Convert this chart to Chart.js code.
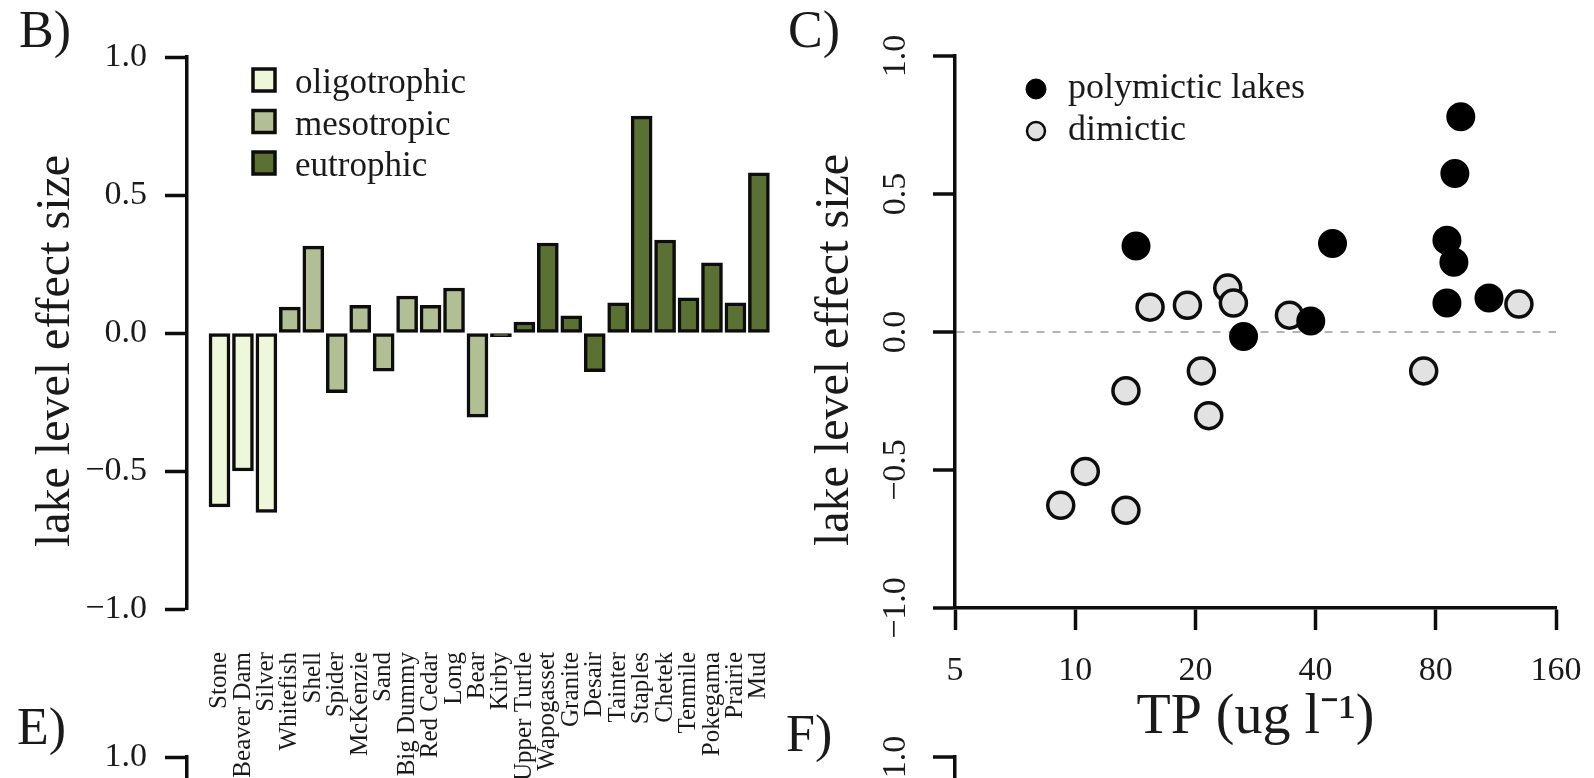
<!DOCTYPE html>
<html>
<head>
<meta charset="utf-8">
<title>Lake level effect size</title>
<script src="https://cdn.jsdelivr.net/npm/chart.js@4.4.1/dist/chart.umd.min.js"></script>
<style>
  html, body { margin: 0; padding: 0; background: #fff; width: 1594px; height: 778px; overflow: hidden; position: relative; }
  .panel { position: absolute; }
  .tag { position: absolute; font-family: 'Liberation Serif', 'Times New Roman', serif; font-size: 52px; line-height: 1; color: #1a1a1a; }
</style>
</head>
<body>

<div class="panel" style="left:0;top:0;width:800px;height:778px"><canvas id="chartB" width="800" height="778"></canvas></div>
<div class="panel" style="left:800px;top:0;width:794px;height:778px"><canvas id="chartC" width="794" height="778"></canvas></div>
<div class="panel" style="left:0;top:700px;width:800px;height:778px"><canvas id="chartE" width="800" height="778"></canvas></div>
<div class="panel" style="left:800px;top:700px;width:794px;height:778px"><canvas id="chartF" width="794" height="778"></canvas></div>

<div class="tag" style="left:19px;top:4px">B)</div>
<div class="tag" style="left:788px;top:4px">C)</div>
<div class="tag" style="left:17px;top:701px">E)</div>
<div class="tag" style="left:786px;top:708px">F)</div>

<script>
/* ---- data ---- */
const lakeNames = ['Stone', 'Beaver Dam', 'Silver', 'Whitefish', 'Shell', 'Spider', 'McKenzie', 'Sand',
                   'Big Dummy', 'Red Cedar', 'Long', 'Bear', 'Kirby', 'Upper Turtle', 'Wapogasset', 'Granite',
                   'Desair', 'Tainter', 'Staples', 'Chetek', 'Tenmile', 'Pokegama', 'Prairie', 'Mud'];
const lakeEffect = [-0.63, -0.50, -0.65, 0.094, 0.315, -0.216, 0.10, -0.138,
                    0.134, 0.10, 0.163, -0.305, -0.013, 0.04, 0.326, 0.062,
                    -0.14, 0.109, 0.786, 0.337, 0.127, 0.254, 0.109, 0.58];
const lakeTrophic = ['oligotrophic', 'oligotrophic', 'oligotrophic',
                     'mesotropic', 'mesotropic', 'mesotropic', 'mesotropic', 'mesotropic',
                     'mesotropic', 'mesotropic', 'mesotropic', 'mesotropic',
                     'eutrophic', 'eutrophic', 'eutrophic', 'eutrophic', 'eutrophic', 'eutrophic',
                     'eutrophic', 'eutrophic', 'eutrophic', 'eutrophic', 'eutrophic', 'eutrophic'];
const trophicGroups = ['oligotrophic', 'mesotropic', 'eutrophic'];

// panel C: TP (ug/l) against effect size, split by mixing regime
const polyTP     = [14.2, 44.1, 92.4, 89.3, 85.3, 88.8, 85.3, 108.7, 26.4, 38.9];
const polyEffect = [0.312, 0.321, 0.780, 0.574, 0.332, 0.253, 0.105, 0.123, -0.016, 0.040];
const dimTP      = [15.4, 19.1, 24.1, 24.9, 34.4, 129.2, 13.4, 20.7, 21.6, 10.6, 9.2, 13.4, 74.6];
const dimEffect  = [0.090, 0.097, 0.159, 0.105, 0.061, 0.101, -0.213, -0.141, -0.303, -0.505, -0.628, -0.646, -0.141];

const effectTicks = [-1, -0.5, 0, 0.5, 1];
const tpTicks = [5, 10, 20, 40, 80, 160];

/* ---- look ---- */
const serif = "'Liberation Serif', 'Times New Roman', serif";
const ink = '#0d0d0d';
const textInk = '#1a1a1a';
const trophicColour = { oligotrophic: '#eff7da', mesotropic: '#b2bf94', eutrophic: '#5b7134' };

const fmtEffect = v => (v < 0 ? '\u2212' : '') + Math.abs(v).toFixed(1);

/* y axis shared by B and E (labels horizontal) */
function effectAxisFlat(withTitle) {
  return {
    min: -1, max: 1,
    afterBuildTicks: s => { s.ticks = effectTicks.map(v => ({ value: v })); },
    afterFit: s => { s.width = 187; },
    grid: { drawOnChartArea: false, drawTicks: true, tickLength: 22, tickWidth: 3.5, tickColor: ink },
    border: { display: true, color: ink, width: 3.5 },
    ticks: { padding: 18, color: textInk, font: { family: serif, size: 34 }, callback: fmtEffect },
    title: { display: withTitle, text: 'lake level effect size   ', color: textInk,
             font: { family: serif, size: 48 }, padding: { top: 28, bottom: 0 } }
  };
}

/* y axis shared by C and F (labels drawn sideways by plugin) */
function effectAxisSide(withTitle, zeroLine) {
  return {
    min: -1, max: 1,
    afterBuildTicks: s => { s.ticks = effectTicks.map(v => ({ value: v })); },
    afterFit: s => { s.width = 155; },
    grid: {
      drawOnChartArea: zeroLine, drawTicks: true, tickLength: 22, tickWidth: 3.5, tickColor: ink,
      lineWidth: 2,
      color: c => (c.tick && c.tick.value === 0) ? '#b4b4b4' : 'rgba(0,0,0,0)'
    },
    border: { display: true, color: ink, width: 3.5, dash: [8, 8] },
    ticks: { display: false },
    title: { display: withTitle, text: 'lake level effect size   ', color: textInk,
             font: { family: serif, size: 48 }, padding: { top: 7, bottom: 0 } }
  };
}

/* R-style sideways y tick labels */
const sidewaysTicks = {
  id: 'sidewaysTicks',
  afterDraw(chart, args, opts) {
    const s = chart.scales.y;
    const ctx = chart.ctx;
    ctx.save();
    ctx.font = `34px ${serif}`;
    ctx.fillStyle = textInk;
    ctx.textAlign = 'center';
    ctx.textBaseline = 'middle';
    s.ticks.forEach(t => {
      ctx.save();
      ctx.translate(opts.x, s.getPixelForValue(t.value));
      ctx.rotate(-Math.PI / 2);
      ctx.fillText(fmtEffect(t.value), 0, 0);
      ctx.restore();
    });
    ctx.restore();
  }
};

/* legend of trophic classes (panel B) */
const trophicKey = {
  id: 'trophicKey',
  afterDraw(chart, args, o) {
    const ctx = chart.ctx;
    ctx.save();
    ctx.font = `35px ${serif}`;
    ctx.textBaseline = 'middle';
    trophicGroups.forEach((g, i) => {
      const y = o.top + i * o.step;
      ctx.fillStyle = trophicColour[g];
      ctx.fillRect(o.left, y - o.size / 2, o.size, o.size);
      ctx.lineWidth = 3.5;
      ctx.strokeStyle = ink;
      ctx.strokeRect(o.left, y - o.size / 2, o.size, o.size);
      ctx.fillStyle = textInk;
      ctx.fillText(g, o.textLeft, y + 4);
    });
    ctx.restore();
  }
};

/* legend of mixing regime (panel C), markers taken from the datasets */
const mixKey = {
  id: 'mixKey',
  afterDraw(chart, args, o) {
    const ctx = chart.ctx;
    ctx.save();
    ctx.font = `36px ${serif}`;
    ctx.textBaseline = 'middle';
    chart.data.datasets.forEach((ds, i) => {
      const y = o.top + i * o.step;
      ctx.beginPath();
      ctx.arc(o.left, y, o.radius[i], 0, Math.PI * 2);
      ctx.fillStyle = ds.backgroundColor;
      ctx.fill();
      ctx.lineWidth = o.lineWidth[i];
      ctx.strokeStyle = ds.borderColor;
      ctx.stroke();
      ctx.fillStyle = textInk;
      ctx.fillText(ds.label, o.textLeft, y);
    });
    ctx.restore();
  }
};

/* the end labels must not shrink the plot box */
const noEndPadding = s => { s.paddingLeft = 0; s.paddingRight = 0; };

/* ---- B) bar chart ---- */
new Chart(document.getElementById('chartB'), {
  type: 'bar',
  data: {
    datasets: [{
      data: lakeEffect.map((v, i) => ({ x: i, y: v })),
      backgroundColor: lakeTrophic.map(t => trophicColour[t]),
      borderColor: ink,
      borderWidth: 3.5,
      borderSkipped: false,
      barThickness: 21
    }]
  },
  options: {
    responsive: false,
    animation: false,
    layout: { padding: { top: 57, right: 8.6, left: 0, bottom: 0 } },
    plugins: {
      legend: { display: false },
      tooltip: { enabled: false },
      trophicKey: { left: 253, top: 80, step: 41.5, size: 22, textLeft: 295 }
    },
    scales: {
      x: {
        type: 'linear', min: -1.386, max: 24.386, offset: false,
        afterBuildTicks: s => { s.ticks = lakeNames.map((_, i) => ({ value: i })); },
        afterFit: s => { s.height = 169; noEndPadding(s); },
        grid: { display: false, drawTicks: false, offset: false },
        border: { display: false },
        ticks: {
          autoSkip: false, minRotation: 90, maxRotation: 90, padding: 43,
          color: textInk, font: { family: serif, size: 25 },
          callback: v => lakeNames[v]
        }
      },
      y: effectAxisFlat(true)
    }
  },
  plugins: [trophicKey]
});

/* ---- C) scatter on log TP ---- */
new Chart(document.getElementById('chartC'), {
  type: 'scatter',
  data: {
    datasets: [
      { label: 'polymictic lakes', data: polyTP.map((x, i) => ({ x: x, y: polyEffect[i] })),
        pointRadius: 13.5, backgroundColor: '#000', borderColor: '#000', borderWidth: 2 },
      { label: 'dimictic', data: dimTP.map((x, i) => ({ x: x, y: dimEffect[i] })),
        pointRadius: 13, backgroundColor: '#e2e2e2', borderColor: ink, borderWidth: 3.5 }
    ]
  },
  options: {
    responsive: false,
    animation: false,
    layout: { padding: { top: 56, right: 38, left: 0, bottom: 0 } },
    plugins: {
      legend: { display: false },
      tooltip: { enabled: false },
      sidewaysTicks: { x: 96 },
      mixKey: { left: 236, top: 89, step: 42, radius: [10, 9], lineWidth: [1, 2.5], textLeft: 268 }
    },
    scales: {
      x: {
        type: 'logarithmic', min: 5, max: 160,
        afterBuildTicks: s => { s.ticks = tpTicks.map(v => ({ value: v })); },
        afterFit: s => { s.height = 170; noEndPadding(s); },
        grid: { drawOnChartArea: false, drawTicks: true, tickLength: 22, tickWidth: 3.5, tickColor: ink },
        border: { display: true, color: ink, width: 3.5 },
        ticks: { padding: 21, color: textInk, font: { family: serif, size: 34 }, callback: v => String(v) },
        title: { display: true, text: 'TP (ug l\u207B\u00B9)', color: textInk,
                 font: { family: serif, size: 56 }, padding: { top: 0, bottom: 26 } }
      },
      y: effectAxisSide(true, true)
    }
  },
  plugins: [sidewaysTicks, mixKey]
});

/* ---- E) and F): only the tops of these panels fall inside the frame ---- */
new Chart(document.getElementById('chartE'), {
  type: 'scatter',
  data: { datasets: [] },
  options: {
    responsive: false, animation: false,
    layout: { padding: { top: 57, right: 8.6, left: 0, bottom: 0 } },
    plugins: { legend: { display: false }, tooltip: { enabled: false } },
    scales: { x: { display: false }, y: effectAxisFlat(false) }
  }
});

new Chart(document.getElementById('chartF'), {
  type: 'scatter',
  data: { datasets: [] },
  options: {
    responsive: false, animation: false,
    layout: { padding: { top: 57, right: 38, left: 0, bottom: 0 } },
    plugins: { legend: { display: false }, tooltip: { enabled: false }, sidewaysTicks: { x: 96 } },
    scales: { x: { display: false }, y: effectAxisSide(false, false) }
  },
  plugins: [sidewaysTicks]
});
</script>
</body>
</html>
